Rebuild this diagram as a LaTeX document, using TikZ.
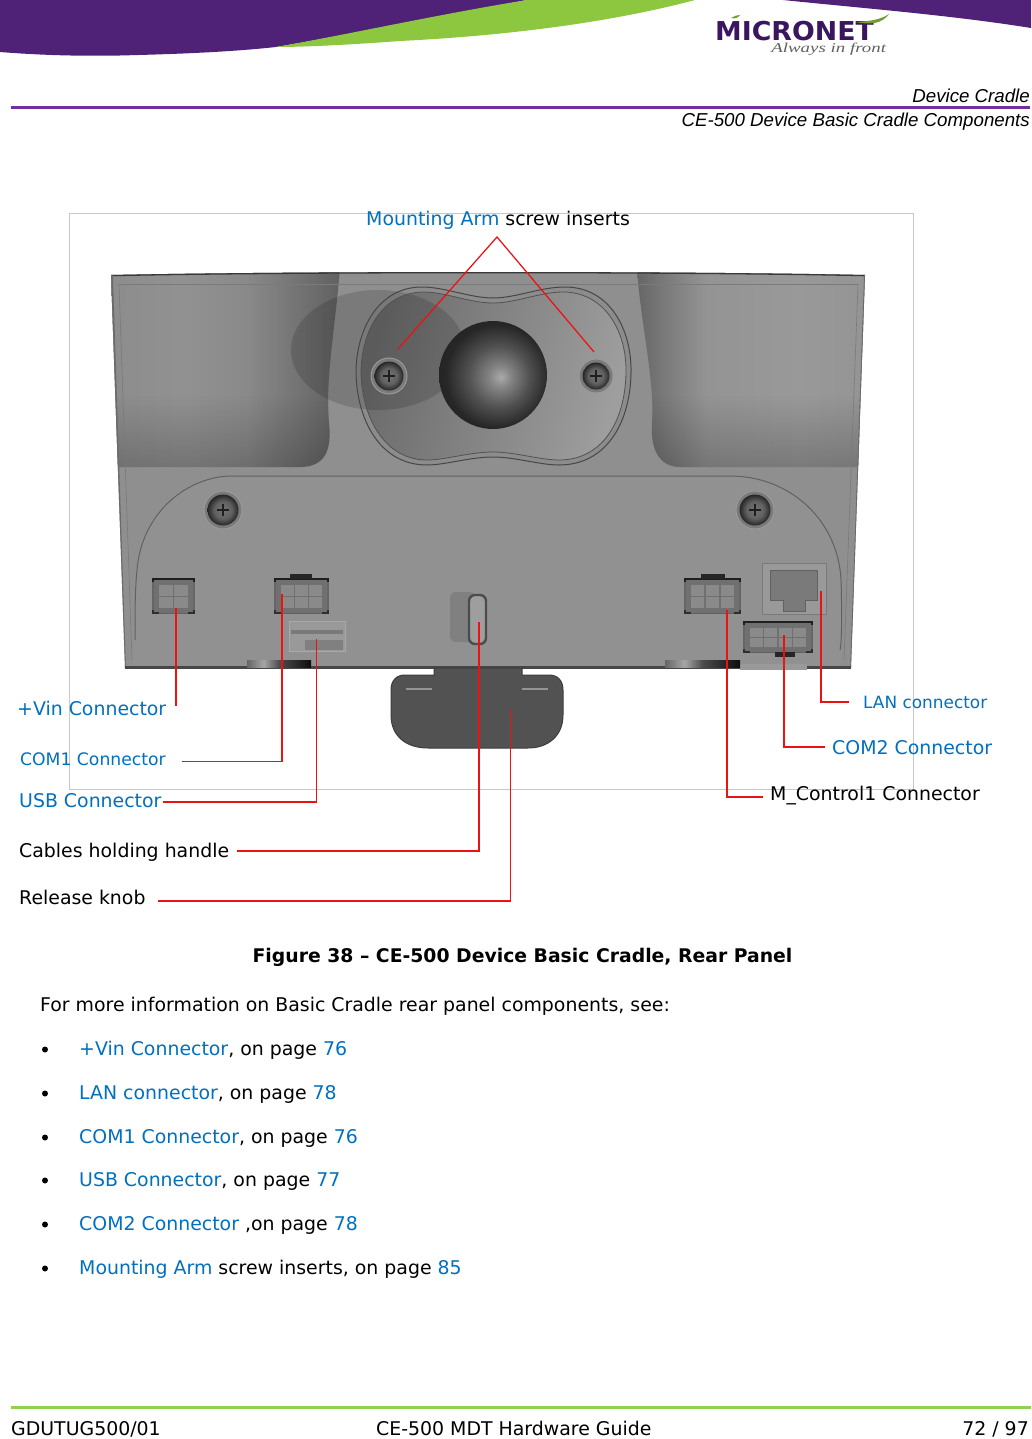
\documentclass[tikz,border=0pt]{standalone}
\usepackage{fontspec}
\usetikzlibrary{fadings,calc}
\setmainfont{DejaVu Sans}
\newfontfamily\hdrfont{Liberation Sans}
\newfontfamily\logoserif{Liberation Serif}
\definecolor{linkblue}{HTML}{0070C0}
\definecolor{hpurple}{HTML}{7030A0}
\definecolor{bandpurple}{HTML}{4F2177}
\definecolor{bandgreen}{HTML}{8DC63F}
\definecolor{logopurple}{HTML}{3A1560}
\definecolor{footgreen}{HTML}{92D050}
\definecolor{redline}{HTML}{EE1111}
\pgfdeclarehorizontalshading{leftpanel}{100bp}{color(0bp)=(black!45);color(25bp)=(black!45);color(42bp)=(black!43);color(55bp)=(black!46);color(65bp)=(black!54);color(75bp)=(black!62);color(100bp)=(black!62)}
\pgfdeclarehorizontalshading{rightpanel}{100bp}{color(0bp)=(black!60);color(25bp)=(black!60);color(31bp)=(black!52);color(40bp)=(black!42);color(60bp)=(black!40);color(75bp)=(black!42);color(100bp)=(black!42)}
\pgfdeclarehorizontalshading{footshade}{100bp}{color(0bp)=(black!60);color(25bp)=(black!60);color(38bp)=(black!35);color(50bp)=(black!70);color(75bp)=(black!95);color(100bp)=(black!95)}
\pgfdeclareradialshading{ballsh}{\pgfpoint{3.7bp}{-1bp}}{color(0bp)=(black!33);color(5bp)=(black!48);color(14bp)=(black!68);color(24bp)=(black!85);color(50bp)=(black!90)}
\pgfdeclareradialshading{screwsh}{\pgfpoint{0bp}{0bp}}{color(0bp)=(black!55);color(14bp)=(black!62);color(25bp)=(black!85);color(50bp)=(black!85)}
\tikzset{
  lbl/.style={anchor=base west,inner sep=0pt,font=\fontsize{18.9}{22}\selectfont},
  lblr/.style={lbl,anchor=base east},
  hdr/.style={anchor=base east,inner sep=0pt,font=\hdrfont\itshape\fontsize{18.7}{22}\selectfont},
  rl/.style={draw=redline,line width=1.25pt,line join=miter},
  plate/.style={draw=black!72,line width=1pt},
}
\newcommand{\screwat}[3]{%
  \fill[black!52,draw=black!40,line width=1pt] (#1,#2) circle ({#3});
  \shade[shading=screwsh] (#1,#2) circle ({#3-3.5});
  \draw[black!88,line width=1.6pt] (#1-6,#2)--(#1+6,#2) (#1,#2-6)--(#1,#2+6);
}
\newcommand{\pinconn}[6]{% x y w h cols rows
  \fill[black!56] (#1,#2) rectangle ++(#3,#4);
  \foreach \c in {1,...,#5}\foreach \r in {1,...,#6}{
    \fill[black!46] ({#1+5+(\c-1)*(#3-10)/#5+0.7},{#2+5+(\r-1)*(#4-9)/#6+0.7}) rectangle ++({(#3-10)/#5-1.4},{(#4-9)/#6-1.4});
  }
  \draw[black!88,line width=1.8pt] (#1,#2+3) -- (#1,#2) -- (#1+#3,#2) -- (#1+#3,#2+3);
  \draw[black!60,line width=1.2pt] (#1,#2+3) -- (#1,#2+#4-3) (#1+#3,#2+3) -- (#1+#3,#2+#4-3);
  \draw[black!82,line width=1.6pt] (#1,#2+#4-3) -- (#1,#2+#4) -- (#1+6,#2+#4) (#1+#3-6,#2+#4) -- (#1+#3,#2+#4) -- (#1+#3,#2+#4-3);
  \draw[black!62,line width=1pt] (#1+6,#2+#4) -- (#1+#3-6,#2+#4);
}
\begin{document}
\begin{tikzpicture}[x=1pt,y=-1pt]
\useasboundingbox (0,0) rectangle (1031,1439);
\fill[white] (0,0) rectangle (1031,1439);
% --- header band
\fill[bandpurple] (0,0) -- (0,52) .. controls (50,56) and (90,56) .. (120,55.5) .. controls (180,54) and (230,52) .. (276,47) .. controls (330,38) and (420,20) .. (527,0) -- cycle;
\fill[bandgreen] (276,47) .. controls (340,36) and (440,14) .. (527,0) -- (695,0) .. controls (620,20) and (520,35) .. (400,41) .. controls (360,44) and (310,47) .. (276,47) -- cycle;
\fill[bandpurple] (783,0) .. controls (860,8) and (950,15) .. (1031,28) -- (1031,0) -- cycle;
% logo
\node[anchor=base west,inner sep=0pt,text=logopurple,font=\bfseries\fontsize{26}{26}\selectfont,xscale=1.03] (logo) at (715,41) {MICRONET};
\node[anchor=base west,inner sep=0pt,text=black!62,font=\logoserif\itshape\fontsize{13.5}{14}\selectfont,xscale=1.4] (tagline) at (771,53) {Always in front};
\fill[bandgreen!80!black] (856,22) .. controls (870,21) and (880,20) .. (889,14) .. controls (882,24) and (870,25) .. (856,22) -- cycle;
\fill[bandgreen!80!black] (731,18) .. controls (734,16) and (737,15) .. (740,15) .. controls (738,18) and (735,19) .. (731,18) -- cycle;
% header text
\node[hdr] (h1) at (1030,103) {Device Cradle};
\node[hdr] (h2) at (1030,127) {CE-500 Device Basic Cradle Components};
\draw[hpurple,line width=3pt] (11,108) -- (1030,108);
% --- figure frame
\draw[black!22,line width=1pt] (69,214) rectangle (913,789);
% --- body
\begin{scope}
\path[clip] (111,275) .. controls (300,271) and (680,271) .. (865,275) -- (851,668) -- (125,668) -- cycle;
\fill[black!44] (100,265) rectangle (880,680);
% left panel
\shade[shading=leftpanel] (105,268) -- (340,268) .. controls (335,330) and (325,380) .. (329,423) .. controls (332,450) and (325,467) .. (300,467) -- (105,467) -- cycle;
% right panel
\shade[shading=rightpanel] (637,268) .. controls (640,320) and (655,380) .. (652,423) .. controls (650,450) and (660,467) .. (680,467) -- (870,467) -- (870,268) -- cycle;
% panel darkening toward bottom
\fill[black,opacity=.2,path fading=north] (105,395) -- (329,395) -- (329,423) .. controls (332,450) and (325,467) .. (300,467) -- (105,467) -- cycle;
\fill[black,opacity=.2,path fading=north] (652,395) -- (652,423) .. controls (650,450) and (660,467) .. (680,467) -- (870,467) -- (870,395) -- cycle;
% top and side rims
\draw[black!78,line width=2.6pt] (111,275) .. controls (300,271) and (680,271) .. (865,275);
\draw[black!58,line width=1.8pt] (112,275) -- (125,668);
\draw[black!58,line width=1.8pt] (865,275) -- (851,668);
\draw[black!52,line width=0.6pt] (119,284) -- (858,284);
\draw[black!52,line width=0.6pt] (119,284) -- (132,660) (858,284) -- (844,660);
\end{scope}
% plate
\path[fill=black!45] (422,287) .. controls (445,287) and (470,298) .. (493,298) .. controls (516,298) and (540,287) .. (565,287) .. controls (610,287) and (632,330) .. (631,373) .. controls (630,425) and (605,465) .. (559,465) .. controls (540,465) and (515,457) .. (493,457) .. controls (470,457) and (445,465) .. (427,465) .. controls (380,465) and (357,420) .. (356,373) .. controls (356,330) and (378,287) .. (422,287) -- cycle;
\shade[left color=black!58,right color=black!38,shading angle=75] (424,292) .. controls (445,292) and (470,303) .. (493,303) .. controls (516,303) and (540,292) .. (563,292) .. controls (605,292) and (627,332) .. (626,373) .. controls (625,422) and (602,460) .. (559,460) .. controls (540,460) and (515,452) .. (493,452) .. controls (470,452) and (445,460) .. (427,460) .. controls (385,460) and (362,418) .. (361,373) .. controls (361,332) and (382,292) .. (424,292) -- cycle;
% shadow blob
\fill[black,opacity=0.14] (378,350) ellipse (87 and 60);
\draw[plate] (422,287) .. controls (445,287) and (470,298) .. (493,298) .. controls (516,298) and (540,287) .. (565,287) .. controls (610,287) and (632,330) .. (631,373) .. controls (630,425) and (605,465) .. (559,465) .. controls (540,465) and (515,457) .. (493,457) .. controls (470,457) and (445,465) .. (427,465) .. controls (380,465) and (357,420) .. (356,373) .. controls (356,330) and (378,287) .. (422,287) -- cycle;
\draw[black!68,line width=.8pt] (424,292) .. controls (445,292) and (470,303) .. (493,303) .. controls (516,303) and (540,292) .. (563,292) .. controls (605,292) and (627,332) .. (626,373) .. controls (625,422) and (602,460) .. (559,460) .. controls (540,460) and (515,452) .. (493,452) .. controls (470,452) and (445,460) .. (427,460) .. controls (385,460) and (362,418) .. (361,373) .. controls (361,332) and (382,292) .. (424,292) -- cycle;
% ball
\shade[shading=ballsh] (493,375) circle (54);
\screwat{389}{376}{18}
\screwat{596}{376}{17}
% lower panel
\fill[black!43] (133,668) .. controls (132,640) and (135,590) .. (137,570) .. controls (142,510) and (190,476) .. (232,476) -- (730,476) .. controls (790,476) and (838,520) .. (841,580) .. controls (842,610) and (842,640) .. (840,668) -- cycle;
\draw[black!62,line width=1pt] (135,640) .. controls (135,610) and (135,590) .. (137,570) .. controls (142,510) and (190,476) .. (232,476) -- (730,476) .. controls (790,476) and (838,520) .. (841,580) .. controls (842,610) and (842,640) .. (840,650);
\draw[black!72,line width=2.6pt] (125,667.5) -- (851,667.5);
\fill[black!40] (740,664) rectangle (807,669.5);
% feet
\shade[shading=footshade] (247,660) rectangle (311,667);
\shade[shading=footshade] (665,660) rectangle (740,667);
% lower screws
\screwat{223}{510}{19}
\screwat{755}{510}{19}
% connectors
\pinconn{153}{579}{41}{34}{2}{2}
\pinconn{275}{579}{53}{34}{3}{2}
\fill[black!85] (290,574) rectangle (312,579);
\pinconn{685}{579}{55}{34}{3}{2}
\fill[black!85] (701,574) rectangle (725,579);
% USB
\fill[black!40,draw=black!34,line width=1pt] (289,621) rectangle (345,651);
\fill[black!52] (291,630) rectangle (343,634);
\fill[black!50] (305,640) rectangle (343,650);
% LAN
\fill[black!40,draw=black!52,line width=.8pt] (762,563) rectangle (826,614);
\fill[black!52,draw=black!62,line width=.8pt] (770,570) -- (817,570) -- (817,600) -- (805,600) -- (805,611) -- (783,611) -- (783,600) -- (770,600) -- cycle;
% COM2
\pinconn{744}{622}{68}{30}{4}{2}
\fill[black!85] (775,652) rectangle (795,657);
% slot
\fill[black!50,rounded corners=5pt] (450,592) rectangle (475,642);
\fill[black!38,draw=black!70,line width=2.4pt,rounded corners=6pt] (469,595) rectangle (486,644);
% handle
\fill[black!68,draw=black!76,line width=1pt] (405,675) -- (434,675) -- (434,668) -- (522,668) -- (522,675) -- (549,675) .. controls (558,675) and (563,681) .. (563,690) -- (563,715) .. controls (563,736) and (548,748) .. (528,748) -- (428,748) .. controls (406,748) and (391,736) .. (391,715) -- (391,690) .. controls (391,681) and (396,675) .. (405,675) -- cycle;
\draw[black!42,line width=1.2pt] (406,689) -- (432,689) (522,689) -- (548,689);
% --- connector anchors
\coordinate (mApex) at (497,237);
\coordinate (mL) at (398,349);
\coordinate (mR) at (594,352);
\coordinate (vinA) at (176,608);
\coordinate (vinB) at (176,706);
\coordinate (comA) at (282,594);
\coordinate (comB) at (182,761.5);
\coordinate (usbA) at (316.5,639);
\coordinate (usbB) at (163,802);
\coordinate (cabA) at (479,622);
\coordinate (cabB) at (237,851);
\coordinate (relA) at (510.5,709);
\coordinate (relB) at (158,901);
\coordinate (mcA) at (727,610);
\coordinate (mcB) at (763,797);
\coordinate (c2A) at (784,635);
\coordinate (c2B) at (825,747);
\coordinate (lanA) at (821,591);
\coordinate (lanB) at (849,702);
% --- labels
\node[lbl] (tMount) at (366,226) {\textcolor{linkblue}{Mounting Arm} screw inserts};
\node[lbl,text=linkblue] (tVin) at (17,715) {+Vin Connector};
\node[lbl,text=linkblue,font=\fontsize{17.2}{20}\selectfont] (tCom1) at (20,765) {COM1 Connector};
\node[lbl,text=linkblue] (tUsb) at (19,807) {USB Connector};
\node[lbl] (tCab) at (19,857) {Cables holding handle};
\node[lbl] (tRel) at (19,904) {Release knob};
\node[lbl,text=linkblue,font=\fontsize{16.9}{20}\selectfont] (tLan) at (863,708) {LAN connector};
\node[lbl,text=linkblue] (tCom2) at (832,754) {COM2 Connector};
\node[lbl] (tMc) at (770,800) {M\_Control1 Connector};
% --- connectors
\draw[rl] (mL) -- (mApex) -- (mR);
\draw[rl] (vinA) -- (vinB);
\draw[rl] (comA) |- (comB);
\draw[rl] (usbA) |- (usbB);
\draw[rl] (cabA) |- (cabB);
\draw[rl] (relA) |- (relB);
\draw[rl] (mcA) |- (mcB);
\draw[rl] (c2A) |- (c2B);
\draw[rl] (lanA) |- (lanB);
% --- text
\node[anchor=base,inner sep=0pt,font=\bfseries\fontsize{18.8}{22}\selectfont] (cap) at (522.5,962.5) {Figure 38 -- CE-500 Device Basic Cradle, Rear Panel};
\node[lbl] (intro) at (40,1011) {For more information on Basic Cradle rear panel components, see:};
\foreach \n/\yy/\tx in {
 a/1055/{\textcolor{linkblue}{+Vin Connector}, on page \textcolor{linkblue}{76}},
 b/1099/{\textcolor{linkblue}{LAN connector}, on page \textcolor{linkblue}{78}},
 c/1143/{\textcolor{linkblue}{COM1 Connector}, on page \textcolor{linkblue}{76}},
 d/1186/{\textcolor{linkblue}{USB Connector}, on page \textcolor{linkblue}{77}},
 e/1230/{\textcolor{linkblue}{COM2 Connector} ,on page \textcolor{linkblue}{78}},
 f/1274/{\textcolor{linkblue}{Mounting Arm} screw inserts, on page \textcolor{linkblue}{85}}}{
  \fill[black] (45,\yy-5.5) circle (3);
  \node[lbl] (item\n) at (79,\yy) {\tx};
}
% --- footer
\draw[footgreen,line width=3pt] (11,1407) -- (1031,1407);
\node[lbl] (f1) at (11,1435) {GDUTUG500/01};
\node[lbl] (f2) at (376,1435) {CE-500 MDT Hardware Guide};
\node[lblr] (f3) at (1029,1435) {72 / 97};
\end{tikzpicture}
\end{document}
